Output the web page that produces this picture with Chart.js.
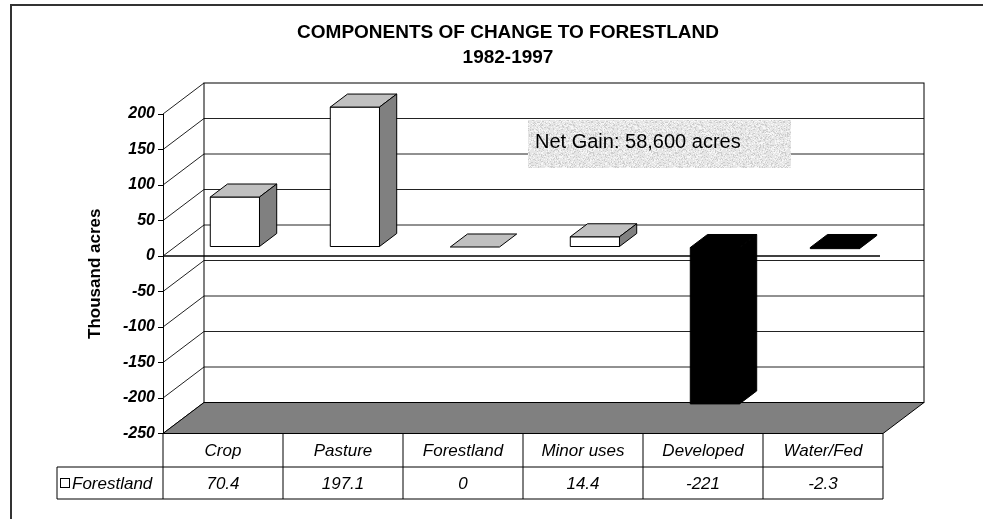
<!DOCTYPE html>
<html lang="en">

<head>
    <meta charset="UTF-8" />
    <title>Components of Change to Forestland</title>
    <script src="https://cdn.jsdelivr.net/npm/chart.js"></script>
    <style>
        html, body { margin: 0; padding: 0; background: #fff; }
        #grafico { display: block; }
    </style>
</head>

<body>
    <canvas id="grafico" width="983" height="519"></canvas>

    <script>
        // dados do grafico
        const categorias = ['Crop', 'Pasture', 'Forestland', 'Minor uses', 'Developed', 'Water/Fed'];
        const valores = [70.4, 197.1, 0, 14.4, -221, -2.3];
        const nomeSerie = 'Forestland';
        const titulo = ['COMPONENTS OF CHANGE TO FORESTLAND', '1982-1997'];
        const tituloEixo = 'Thousand acres';
        const nota = 'Net Gain: 58,600 acres';
        const yMin = -250;
        const yMax = 200;
        const yPasso = 50;

        const fonte = 'Arial, "Liberation Sans", sans-serif';

        // profundidade do "piso" 3D e posicao das barras dentro dela
        const prof = { dx: 41, dy: -31 };
        const barraFrente = 0.29;
        const barraFundo = 0.71;

        function linha(ctx, x1, y1, x2, y2) {
            ctx.beginPath();
            ctx.moveTo(x1, y1);
            ctx.lineTo(x2, y2);
            ctx.stroke();
        }

        function poligono(ctx, pontos, preenchimento) {
            ctx.beginPath();
            ctx.moveTo(pontos[0][0], pontos[0][1]);
            for (let i = 1; i < pontos.length; i++) {
                ctx.lineTo(pontos[i][0], pontos[i][1]);
            }
            ctx.closePath();
            ctx.fillStyle = preenchimento;
            ctx.fill();
            ctx.stroke();
        }

        // textura granulada da caixa de nota
        function texturaNota(ctx) {
            const c = document.createElement('canvas');
            c.width = 64;
            c.height = 64;
            const g = c.getContext('2d');
            g.fillStyle = '#e6e6e6';
            g.fillRect(0, 0, 64, 64);
            for (let x = 0; x < 64; x++) {
                for (let y = 0; y < 64; y++) {
                    let h = Math.sin(x * 12.9898 + y * 78.233) * 43758.5453;
                    h = h - Math.floor(h);
                    if (h > 0.82) {
                        g.fillStyle = '#cdcdcd';
                        g.fillRect(x, y, 1, 1);
                    } else if (h < 0.2) {
                        g.fillStyle = '#f7f7f7';
                        g.fillRect(x, y, 1, 1);
                    }
                }
            }
            return ctx.createPattern(c, 'repeat');
        }

        const cena3d = {
            id: 'cena3d',

            // parede do fundo, linhas de grade, parede lateral e piso
            beforeDraw(chart) {
                const ctx = chart.ctx;
                const area = chart.chartArea;
                const y = chart.scales.y;
                const dx = prof.dx, dy = prof.dy;

                ctx.save();
                ctx.fillStyle = '#fff';
                ctx.fillRect(0, 0, chart.width, chart.height);

                // moldura externa
                ctx.strokeStyle = '#333';
                ctx.lineWidth = 2;
                ctx.beginPath();
                ctx.moveTo(11, chart.height + 5);
                ctx.lineTo(11, 5);
                ctx.lineTo(chart.width + 5, 5);
                ctx.stroke();

                // titulo centrado na moldura
                ctx.fillStyle = '#000';
                ctx.font = 'bold 19px ' + fonte;
                ctx.textAlign = 'center';
                ctx.textBaseline = 'middle';
                ctx.fillText(titulo[0], 508, 33);
                ctx.fillText(titulo[1], 508, 58);

                const topo = y.getPixelForValue(yMax);
                const fundo = y.getPixelForValue(yMin);

                ctx.lineWidth = 1;
                ctx.strokeStyle = '#222';

                // linhas de grade na parede do fundo
                for (let v = yMin + yPasso; v < yMax; v += yPasso) {
                    const py = y.getPixelForValue(v) + dy;
                    linha(ctx, area.left + dx, py, area.right + dx, py);
                }
                // linhas diagonais na parede lateral
                for (let v = yMin; v <= yMax; v += yPasso) {
                    const py = y.getPixelForValue(v);
                    linha(ctx, area.left, py, area.left + dx, py + dy);
                }
                ctx.strokeStyle = '#000';
                ctx.strokeRect(area.left + dx, topo + dy, area.right - area.left, fundo - topo);

                // piso
                poligono(ctx, [
                    [area.left, fundo],
                    [area.right, fundo],
                    [area.right + dx, fundo + dy],
                    [area.left + dx, fundo + dy]
                ], '#808080');

                // linha do zero na frente
                const zero = y.getPixelForValue(0);
                ctx.lineWidth = 1.5;
                linha(ctx, area.left, zero, area.right - 3, zero);
                ctx.restore();
            },

            afterDatasetsDraw(chart) {
                const ctx = chart.ctx;
                const area = chart.chartArea;
                const meta = chart.getDatasetMeta(0);
                const fx = prof.dx * barraFrente, fy = prof.dy * barraFrente;
                const bx = prof.dx * barraFundo, by = prof.dy * barraFundo;

                ctx.save();
                ctx.lineWidth = 1;
                ctx.strokeStyle = '#000';
                ctx.lineJoin = 'miter';

                // barras em caixa 3D
                meta.data.forEach(function (barra, i) {
                    const p = barra.getProps(['x', 'y', 'base', 'width'], true);
                    const x0 = p.x - p.width / 2;
                    const x1 = p.x + p.width / 2;
                    const yTopo = Math.min(p.y, p.base);
                    const yBase = Math.max(p.y, p.base);
                    const negativo = valores[i] < 0;

                    const corFrente = negativo ? '#000' : '#fff';
                    const corTopo = negativo ? '#000' : '#c0c0c0';
                    const corLado = negativo ? '#000' : '#808080';

                    const tampa = [
                        [x0 + fx, yTopo + fy], [x1 + fx, yTopo + fy],
                        [x1 + bx, yTopo + by], [x0 + bx, yTopo + by]
                    ];
                    if (yBase - yTopo < 0.5) {
                        poligono(ctx, tampa, corTopo);
                        return;
                    }
                    poligono(ctx, [
                        [x0 + fx, yTopo + fy], [x1 + fx, yTopo + fy],
                        [x1 + fx, yBase + fy], [x0 + fx, yBase + fy]
                    ], corFrente);
                    poligono(ctx, tampa, corTopo);
                    poligono(ctx, [
                        [x1 + fx, yTopo + fy], [x1 + bx, yTopo + by],
                        [x1 + bx, yBase + by], [x1 + fx, yBase + fy]
                    ], corLado);
                });

                // caixa de nota
                ctx.fillStyle = texturaNota(ctx);
                ctx.fillRect(528, 120, 263, 48);
                ctx.fillStyle = '#000';
                ctx.font = '20px ' + fonte;
                ctx.textAlign = 'left';
                ctx.textBaseline = 'middle';
                ctx.fillText(nota, 535, 142);

                // tabela de dados abaixo do piso
                const x = chart.scales.x;
                const passo = (area.right - area.left) / categorias.length;
                const t0 = area.bottom;
                const t1 = t0 + 33.5;
                const t2 = t1 + 32;
                const legEsq = 57;

                ctx.lineWidth = 1;
                ctx.strokeStyle = '#000';
                linha(ctx, area.left, t0, area.right, t0);
                linha(ctx, legEsq, t1, area.right, t1);
                linha(ctx, legEsq, t2, area.right, t2);
                linha(ctx, legEsq, t1, legEsq, t2);
                for (let i = 0; i <= categorias.length; i++) {
                    const cx = area.left + passo * i;
                    linha(ctx, cx, t0, cx, t2);
                }

                ctx.font = 'italic 17px ' + fonte;
                ctx.textAlign = 'center';
                ctx.textBaseline = 'middle';
                categorias.forEach(function (c, i) {
                    const cx = x.getPixelForValue(i);
                    ctx.fillText(c, cx, (t0 + t1) / 2 + 1);
                    ctx.fillText(String(valores[i]), cx, (t1 + t2) / 2 + 1);
                });

                // chave da legenda
                ctx.fillStyle = '#fff';
                ctx.fillRect(60.5, 478.5, 9, 9);
                ctx.strokeRect(60.5, 478.5, 9, 9);
                ctx.fillStyle = '#000';
                ctx.textAlign = 'left';
                ctx.fillText(nomeSerie, 72, (t1 + t2) / 2 + 1);
                ctx.restore();
            }
        };

        new Chart(document.getElementById('grafico'), {
            type: 'bar',
            data: {
                labels: categorias,
                datasets: [{
                    label: nomeSerie,
                    data: valores,
                    backgroundColor: 'rgba(0,0,0,0)',
                    borderWidth: 0,
                    categoryPercentage: 1,
                    barPercentage: 0.41
                }]
            },
            options: {
                responsive: false,
                animation: false,
                devicePixelRatio: 1,
                layout: {
                    padding: { left: 80, right: 100, top: 114, bottom: 85.5 }
                },
                plugins: {
                    legend: { display: false },
                    tooltip: { enabled: false },
                    title: { display: false }
                },
                scales: {
                    x: { display: false },
                    y: {
                        min: yMin,
                        max: yMax,
                        ticks: {
                            stepSize: yPasso,
                            color: '#000',
                            padding: 3,
                            font: { family: fonte, size: 16, weight: 'bold', style: 'italic' }
                        },
                        grid: { drawOnChartArea: false, tickLength: 5, color: '#000' },
                        border: { color: '#000', width: 1 },
                        title: {
                            display: true,
                            text: tituloEixo,
                            color: '#000',
                            padding: { top: 5, bottom: 0 },
                            font: { family: fonte, size: 17, weight: 'bold' }
                        },
                        afterFit: function (escala) {
                            escala.width = 83;
                        }
                    }
                }
            },
            plugins: [cena3d]
        });
    </script>
</body>

</html>
